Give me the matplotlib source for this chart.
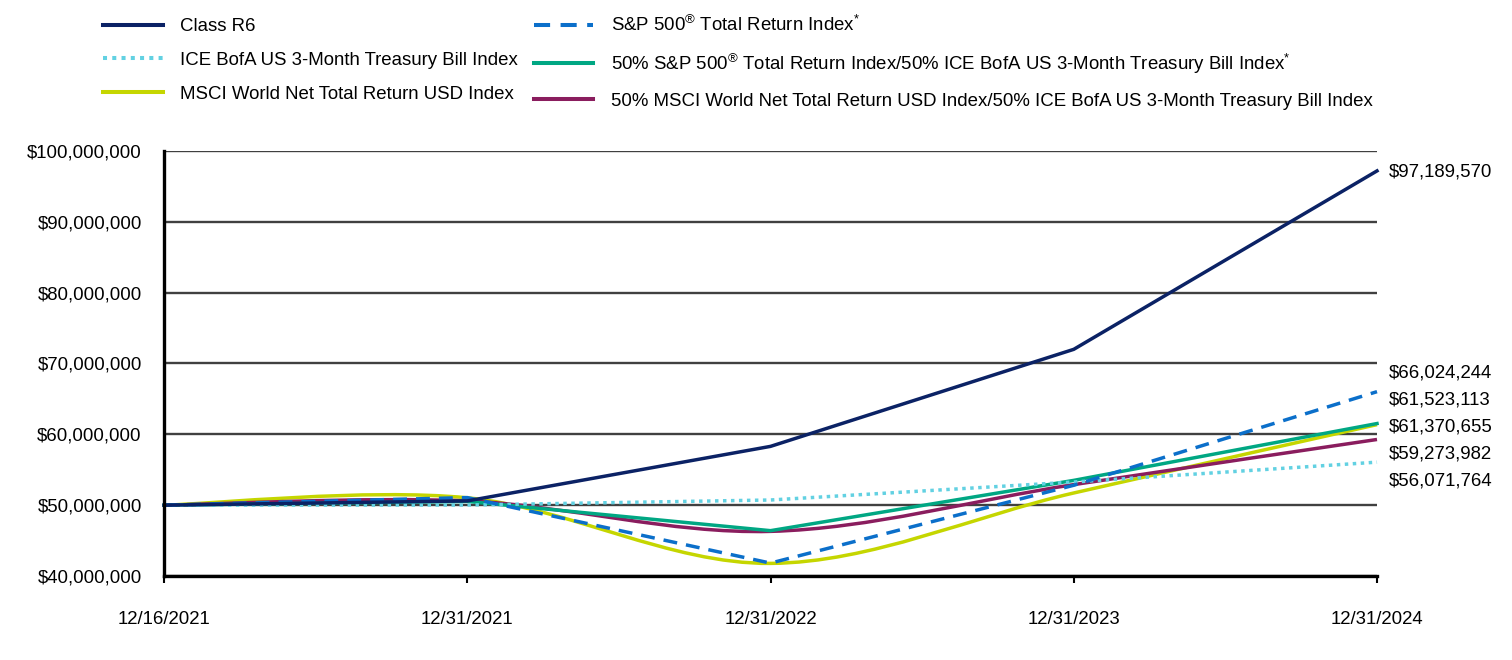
import numpy as np
import matplotlib.pyplot as plt
from matplotlib.path import Path
from matplotlib.patches import PathPatch
from matplotlib.lines import Line2D

plt.rcParams['font.family'] = ['Liberation Sans', 'DejaVu Sans']
plt.rcParams['mathtext.fontset'] = 'custom'
plt.rcParams['mathtext.rm'] = 'Liberation Sans'
plt.rcParams['mathtext.it'] = 'Liberation Sans:italic'

# Growth of $50,000,000 investment
dates = ["12/16/2021", "12/31/2021", "12/31/2022", "12/31/2023", "12/31/2024"]

class_r6 = [50000000, 50600000, 58300000, 72000000, 97189570]
sp500 = [50000000, 51070000, 41820000, 52810000, 66024244]
ice_tbill = [50000000, 50020000, 50730000, 53270000, 56071764]
msci_world = [50000000, 51040000, 41780000, 51720000, 61370655]
blend_sp = [50000000, 50530000, 46400000, 53500000, 61523113]
blend_msci = [50000000, 50600000, 46300000, 52900000, 59273982]

y_ticks = [40000000, 50000000, 60000000, 70000000, 80000000, 90000000, 100000000]

FS = 13.4


def smooth_path(ys):
    # smoothed line (Catmull-Rom style bezier) through the data points
    pts = np.column_stack([np.arange(len(ys), dtype=float), np.asarray(ys, dtype=float)])
    n = len(pts)
    verts = [pts[0]]
    codes = [Path.MOVETO]
    for i in range(n - 1):
        p_prev = pts[max(i - 1, 0)]
        p_next = pts[min(i + 2, n - 1)]
        c1 = pts[i] + (pts[i + 1] - p_prev) / 6
        c2 = pts[i + 1] - (p_next - pts[i]) / 6
        verts += [c1, c2, pts[i + 1]]
        codes += [Path.CURVE4] * 3
    return Path(verts, codes)


lw = 2.5
series = [
    # (values, label, color, linestyle, smoothed, zorder)
    (msci_world, "MSCI World Net Total Return USD Index", "#c5d600", "solid", True, 3),
    (blend_msci, "50% MSCI World Net Total Return USD Index/50% ICE BofA US 3-Month Treasury Bill Index", "#8a1d5e", "solid", True, 4),
    (blend_sp, r"50% S&P 500$^{\mathrm{®}}$ Total Return Index/50% ICE BofA US 3-Month Treasury Bill Index$^{*}$", "#00a783", "solid", False, 5),
    (ice_tbill, "ICE BofA US 3-Month Treasury Bill Index", "#62d1e2", (0, (1, 1.3)), False, 6),
    (sp500, r"S&P 500$^{\mathrm{®}}$ Total Return Index$^{*}$", "#0b6fca", (0, (4, 2.6)), False, 7),
    (class_r6, "Class R6", "#0b2265", "solid", False, 8),
]

fig = plt.figure(figsize=(15.12, 6.6), dpi=100)
ax = fig.add_axes([164 / 1512, 1 - 576 / 660, (1377 - 164) / 1512, (576 - 151) / 660])

x = range(len(dates))
handles = {}
for vals, label, color, ls, smooth, z in series:
    if smooth:
        patch = PathPatch(smooth_path(vals), fill=False, edgecolor=color, lw=lw,
                          linestyle=ls, zorder=z, clip_on=False, capstyle="butt")
        ax.add_patch(patch)
    else:
        ax.plot(x, vals, color=color, lw=lw, linestyle=ls, zorder=z, clip_on=False,
                dash_capstyle="butt", solid_joinstyle="miter")
    handles[label] = Line2D([], [], color=color, lw=lw + 0.4, linestyle=ls,
                            dash_capstyle="butt")

ax.set_xlim(0, len(dates) - 1)
ax.set_ylim(y_ticks[0], y_ticks[-1])
ax.set_xticks(range(len(dates)))
ax.set_xticklabels(dates, fontsize=FS)
ax.set_yticks(y_ticks)
ax.set_yticklabels(["${:,.0f}".format(v) for v in y_ticks], fontsize=FS)

ax.grid(axis="y", color="#404040", lw=1.7, zorder=1)
ax.set_axisbelow(True)
for side in ["top", "right"]:
    ax.spines[side].set_visible(False)
for side in ["left", "bottom"]:
    ax.spines[side].set_linewidth(2.4)
    ax.spines[side].set_color("black")
    ax.spines[side].set_zorder(10)
ax.tick_params(axis="y", length=0, pad=16)
ax.tick_params(axis="x", length=5, width=1.5, pad=20, direction="out")

# end-value labels
ax.annotate("${:,.0f}".format(class_r6[-1]), xy=(len(dates) - 1, class_r6[-1]),
            xytext=(12, -1), textcoords="offset pixels", va="center", fontsize=FS,
            annotation_clip=False)
end_vals = [sp500, blend_sp, msci_world, blend_msci, ice_tbill]
for i, vals in enumerate(end_vals):
    ax.annotate("${:,.0f}".format(vals[-1]), xy=(len(dates) - 1, sp500[-1]),
                xytext=(12, 19 - 27 * i), textcoords="offset pixels", va="center",
                fontsize=FS, annotation_clip=False)

order = [
    "Class R6",
    "ICE BofA US 3-Month Treasury Bill Index",
    "MSCI World Net Total Return USD Index",
    r"S&P 500$^{\mathrm{®}}$ Total Return Index$^{*}$",
    r"50% S&P 500$^{\mathrm{®}}$ Total Return Index/50% ICE BofA US 3-Month Treasury Bill Index$^{*}$",
    "50% MSCI World Net Total Return USD Index/50% ICE BofA US 3-Month Treasury Bill Index",
]
fig.legend([handles[k] for k in order], order, ncol=2, loc="upper left",
           bbox_to_anchor=(103 / 1512, 1 - 15 / 660), frameon=False, fontsize=FS,
           borderpad=0, borderaxespad=0, handlelength=3.2, handletextpad=0.95,
           columnspacing=0.85, labelspacing=0.9)

fig.savefig("out.png", dpi=100)
